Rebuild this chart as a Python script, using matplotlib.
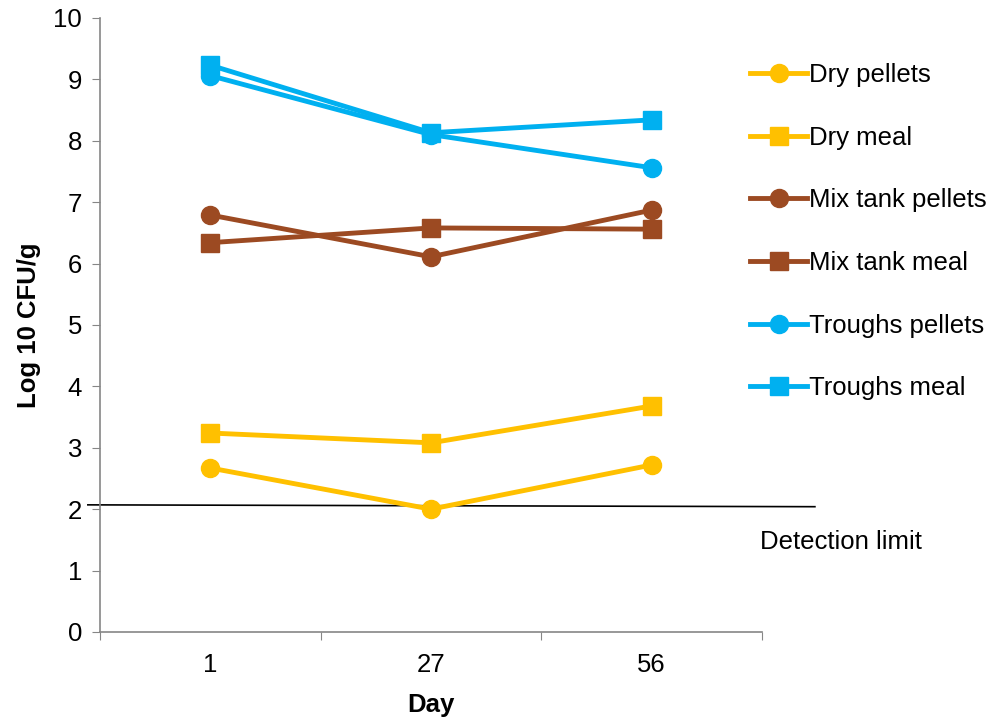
import numpy as np
import matplotlib.pyplot as plt

plt.rcParams['font.family'] = ['Liberation Sans', 'DejaVu Sans']

days = ['1', '27', '56']
series_names = ['Dry pellets', 'Dry meal', 'Mix tank pellets', 'Mix tank meal',
                'Troughs pellets', 'Troughs meal']
dry_pellets = [2.67, 2.00, 2.72]
dry_meal = [3.24, 3.08, 3.68]
mix_pellets = [6.79, 6.11, 6.87]
mix_meal = [6.34, 6.58, 6.56]
trough_pellets = [9.06, 8.10, 7.56]
trough_meal = [9.23, 8.13, 8.34]
detection_limit = [2.07, 2.04]

values = [dry_pellets, dry_meal, mix_pellets, mix_meal, trough_pellets, trough_meal]
colors = ['#FFC000', '#FFC000', '#9C4A22', '#9C4A22', '#00B0F0', '#00B0F0']
markers = ['o', 's', 'o', 's', 'o', 's']
fs = 18.5

fig = plt.figure(figsize=(9.96, 7.17), dpi=100)
ax = fig.add_axes([0.1004, 0.1186, 0.6646, 0.8564])

x = np.arange(len(days)) + 0.5
for name, vals, c, m in zip(series_names, values, colors, markers):
    ax.plot(x, vals, color=c, marker=m, lw=3.5, markersize=13, label=name)

# detection limit line, drawn a bit past the axes
ax.plot([-0.055, 3.24], detection_limit, color='black', lw=1.2, clip_on=False, zorder=1)
ax.text(2.99, 1.47, 'Detection limit', fontsize=fs, ha='left', va='center')

ax.set_xlim(0, 3)
ax.set_ylim(0, 10)
ax.set_yticks(range(0, 11))
ax.set_xticks([0, 1, 2, 3])
ax.set_xticklabels([])
ax.set_xticks(x, minor=True)
ax.set_xticklabels(days, minor=True)
ax.tick_params(axis='x', which='minor', length=0, pad=15, labelsize=fs)
ax.tick_params(axis='x', which='major', length=6, color='#868686', direction='out')
ax.tick_params(axis='y', length=6, color='#868686', labelsize=fs, pad=7)

for s in ['top', 'right']:
    ax.spines[s].set_visible(False)
for s in ['left', 'bottom']:
    ax.spines[s].set_color('#868686')
    ax.spines[s].set_linewidth(1.2)

ax.set_xlabel('Day', fontsize=fs, fontweight='bold', labelpad=12)
ax.set_ylabel('Log 10 CFU/g', fontsize=fs, fontweight='bold', labelpad=9)

ax.legend(loc='upper left', bbox_to_anchor=(0.743, 0.926), bbox_transform=fig.transFigure,
          frameon=False, fontsize=fs, handlelength=2.2, handletextpad=0.1,
          labelspacing=1.5, borderaxespad=0)

fig.savefig('out.png', dpi=100)
